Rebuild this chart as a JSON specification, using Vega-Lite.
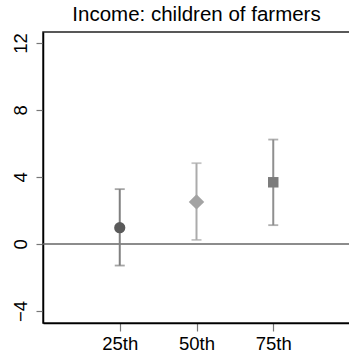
{
  "$schema": "https://vega.github.io/schema/vega-lite/v6.json",
  "autosize": "none",
  "padding": {"left": 43, "top": 32, "right": 0, "bottom": 31},
  "width": 307,
  "height": 291,
  "background": "white",
  "title": {"text": "Income: children of farmers", "font": "Liberation Sans", "fontSize": 20.5, "fontWeight": "normal", "color": "#000", "offset": 7, "anchor": "middle"},
  "config": {
    "view": {"stroke": "#222", "strokeWidth": 1.5},
    "axis": {"grid": false, "title": null, "domainColor": "#000", "domainWidth": 1.5, "tickColor": "#777", "tickWidth": 1.2, "labelFont": "Liberation Sans", "labelFontSize": 18.5, "labelColor": "#000"},
    "axisX": {"labelAngle": 0, "tickSize": 8, "labelPadding": 3},
    "axisY": {"labelAngle": -90, "tickSize": 7, "labelPadding": 6}
  },
  "data": {"values": [
    {"pct": "25th", "est": 0.97, "lo": -1.29, "hi": 3.27},
    {"pct": "50th", "est": 2.51, "lo": 0.24, "hi": 4.82},
    {"pct": "75th", "est": 3.68, "lo": 1.12, "hi": 6.23}
  ]},
  "layer": [
    {
      "data": {"values": [{}]},
      "mark": {"type": "rule", "color": "#666", "strokeWidth": 1.6},
      "encoding": {
        "y": {"datum": 0, "type": "quantitative", "title": null, "scale": {"domain": [-4.72, 12.65], "nice": false, "zero": false},
          "axis": {"values": [-4, 0, 4, 8, 12], "title": null}}
      }
    },
    {
      "mark": {"type": "rule", "strokeWidth": 2},
      "encoding": {
        "x": {"field": "pct", "type": "nominal", "title": null, "scale": {"type": "point", "domain": ["25th", "50th", "75th"], "padding": 1}},
        "y": {"field": "lo", "type": "quantitative", "title": null, "scale": {"domain": [-4.72, 12.65], "nice": false, "zero": false}},
        "y2": {"field": "hi"},
        "color": {"field": "pct", "type": "nominal", "legend": null, "scale": {"domain": ["25th", "50th", "75th"], "range": ["#808080", "#ababab", "#8f8f8f"]}}
      }
    },
    {
      "mark": {"type": "tick", "orient": "horizontal", "size": 10, "thickness": 1.8},
      "encoding": {
        "x": {"field": "pct", "type": "nominal", "title": null, "scale": {"type": "point", "domain": ["25th", "50th", "75th"], "padding": 1}},
        "y": {"field": "lo", "type": "quantitative", "title": null, "scale": {"domain": [-4.72, 12.65], "nice": false, "zero": false}},
        "color": {"field": "pct", "type": "nominal", "legend": null, "scale": {"domain": ["25th", "50th", "75th"], "range": ["#808080", "#ababab", "#8f8f8f"]}}
      }
    },
    {
      "mark": {"type": "tick", "orient": "horizontal", "size": 10, "thickness": 1.8},
      "encoding": {
        "x": {"field": "pct", "type": "nominal", "title": null, "scale": {"type": "point", "domain": ["25th", "50th", "75th"], "padding": 1}},
        "y": {"field": "hi", "type": "quantitative", "title": null, "scale": {"domain": [-4.72, 12.65], "nice": false, "zero": false}},
        "color": {"field": "pct", "type": "nominal", "legend": null, "scale": {"domain": ["25th", "50th", "75th"], "range": ["#808080", "#ababab", "#8f8f8f"]}}
      }
    },
    {
      "mark": {"type": "point", "filled": true, "opacity": 1},
      "encoding": {
        "x": {"field": "pct", "type": "nominal", "title": null, "scale": {"type": "point", "domain": ["25th", "50th", "75th"], "padding": 1}},
        "y": {"field": "est", "type": "quantitative", "title": null, "scale": {"domain": [-4.72, 12.65], "nice": false, "zero": false}},
        "shape": {"field": "pct", "type": "nominal", "legend": null, "scale": {"domain": ["25th", "50th", "75th"], "range": ["circle", "diamond", "square"]}},
        "size": {"field": "pct", "type": "nominal", "legend": null, "scale": {"type": "ordinal", "domain": ["25th", "50th", "75th"], "range": [125, 240, 110]}},
        "fill": {"field": "pct", "type": "nominal", "legend": null, "scale": {"domain": ["25th", "50th", "75th"], "range": ["#5a5a5a", "#a3a3a3", "#7c7c7c"]}}
      }
    }
  ]
}
